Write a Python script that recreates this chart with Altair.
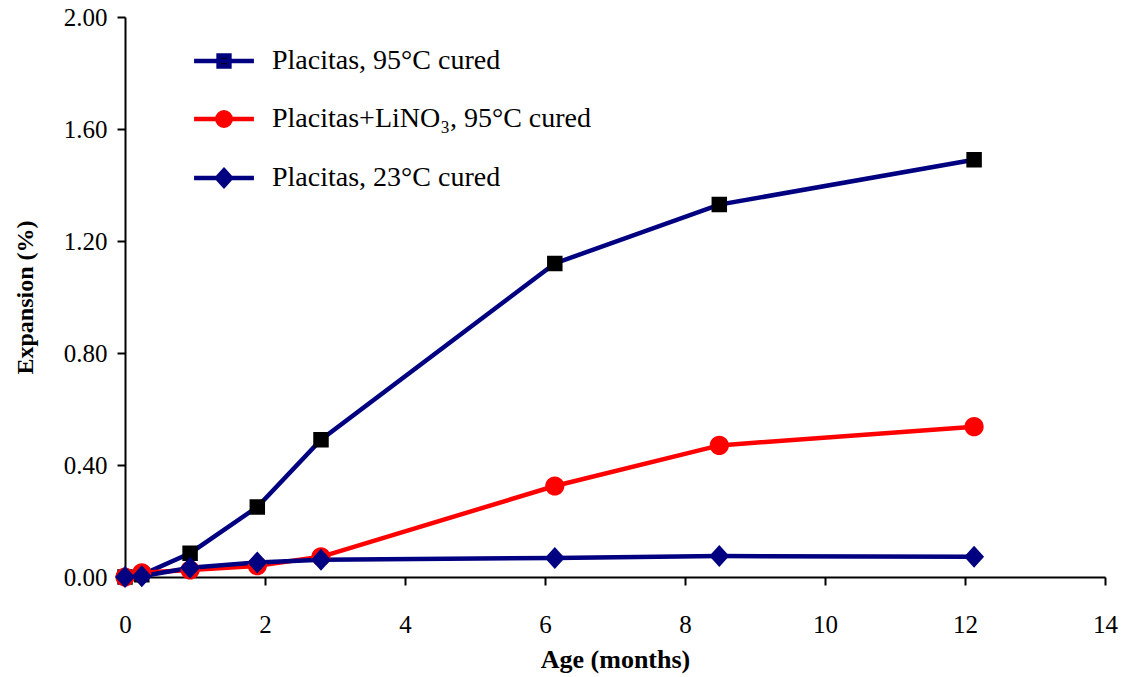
import altair as alt
import pandas as pd

# ---- data ----
ages = [0, 0.24, 0.93, 1.89, 2.8, 6.14, 8.49, 12.13]
exp_95 = [0, 0.008, 0.085, 0.25, 0.49, 1.12, 1.33, 1.49]
exp_li_95 = [0, 0.015, 0.025, 0.04, 0.072, 0.325, 0.47, 0.537]
exp_23 = [0, 0.003, 0.033, 0.052, 0.062, 0.068, 0.075, 0.072]

series_names = [
    "Placitas, 95°C cured",
    "Placitas+LiNO₃, 95°C cured",
    "Placitas, 23°C cured",
]
line_colors = ["#000080", "#FF0000", "#000080"]
marker_colors = ["#000000", "#FF0000", "#000080"]

y_ticks = [0, 0.4, 0.8, 1.2, 1.6, 2.0]
x_ticks = [0, 2, 4, 6, 8, 10, 12, 14]

# marker shapes: a (stroke-only) horizontal segment for the legend line + filled marker
seg = "M-1.05,0L1.05,0"
square = seg + "M-0.19,-0.19L0.19,-0.19L0.19,0.19L-0.19,0.19Z"
circle = seg + "M-0.235,0A0.235,0.235 0 1,0 0.235,0A0.235,0.235 0 1,0 -0.235,0Z"
diamond = seg + "M0,-0.27L0.245,0L0,0.27L-0.245,0Z"
shapes = [square, circle, diamond]

rows = []
for name, vals in zip(series_names, [exp_95, exp_li_95, exp_23]):
    for i, (a, v) in enumerate(zip(ages, vals)):
        rows.append({"series": name, "age": a, "exp": v, "ord": i})
df = pd.DataFrame(rows)

x_enc = alt.X(
    "age:Q",
    scale=alt.Scale(domain=[0, 14], nice=False),
    axis=alt.Axis(
        values=x_ticks,
        title="Age (months)",
        titleX=490,
        titleY=82,
        titleBaseline="middle",
        titleFontSize=26,
        labelFontSize=25,
        labelPadding=27,
        labelFlush=False,
        grid=False,
    ),
)
y_enc = alt.Y(
    "exp:Q",
    scale=alt.Scale(domain=[0, 2], nice=False),
    axis=alt.Axis(
        values=y_ticks,
        format=".2f",
        title="Expansion (%)",
        titleX=-100,
        titleY=280,
        titleAngle=-90,
        titleAlign="center",
        titleBaseline="middle",
        titleFontSize=24,
        labelFontSize=25,
        labelPadding=10,
        labelFlush=False,
        grid=False,
    ),
)

legend = alt.Legend(
    title=None,
    orient="none",
    legendX=68,
    legendY=13,
    symbolSize=3249,
    symbolStrokeWidth=4.5,
    symbolOpacity=1,
    labelFontSize=28,
    labelFont="Liberation Serif",
    labelColor="black",
    labelOffset=17,
    rowPadding=12,
    labelLimit=500,
)

lines = alt.Chart(df).mark_line(strokeWidth=4.5, clip=False).encode(
    x=x_enc,
    y=y_enc,
    stroke=alt.Stroke(
        "series:N",
        scale=alt.Scale(domain=series_names, range=line_colors),
        legend=legend,
    ),
    order="ord:Q",
)

points = alt.Chart(df).mark_point(filled=True, opacity=1, size=6640, strokeWidth=0, clip=False).encode(
    x=x_enc,
    y=y_enc,
    fill=alt.Fill(
        "series:N",
        scale=alt.Scale(domain=series_names, range=marker_colors),
        legend=legend,
    ),
    shape=alt.Shape(
        "series:N",
        scale=alt.Scale(domain=series_names, range=shapes),
        legend=legend,
    ),
)

chart = (
    alt.layer(lines, points)
    .properties(
        width=980,
        height=560,
        autosize=alt.AutoSizeParams(type="none"),
        padding={"left": 125, "top": 17, "right": 20, "bottom": 100},
        background="white",
    )
    .configure_view(stroke=None)
    .configure_axis(
        domainColor="black",
        domainWidth=2,
        tickColor="black",
        tickWidth=2,
        tickSize=8,
        labelFont="Liberation Serif",
        labelColor="black",
        titleFont="Liberation Serif",
        titleFontWeight="bold",
        titleColor="black",
    )
)

chart.save("out.html", embed_options={"renderer": "svg", "actions": False})
